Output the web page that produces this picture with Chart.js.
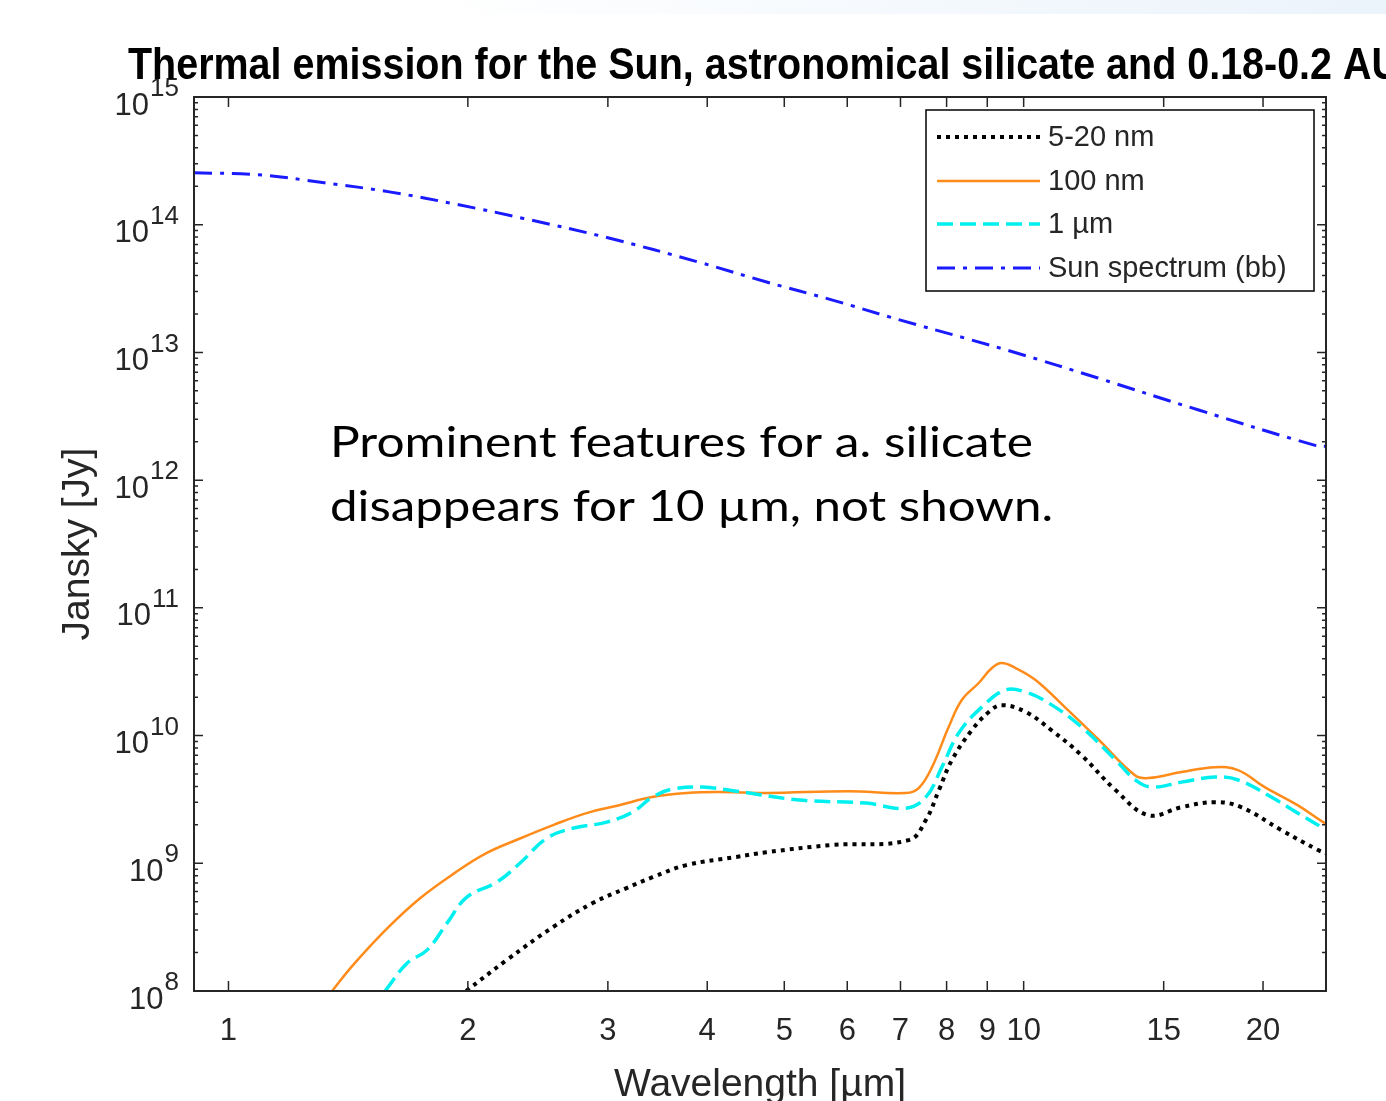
<!DOCTYPE html>
<html>
<head>
<meta charset="utf-8">
<script src="https://cdn.jsdelivr.net/npm/chart.js@4/dist/chart.umd.min.js"></script>
<style>
  html, body { margin: 0; padding: 0; background: #fff; }
  canvas { display: block; }
</style>
</head>
<body>
<canvas id="thermalChart" width="1386" height="1101"></canvas>
<script>
// wavelengths in um, flux in Jy
const sunWl   = [0.905, 1.09, 1.32, 1.6, 1.94, 2.35, 3.0, 3.9, 4.75, 5.75, 7.0, 8.45, 9.8, 12.4, 16.6, 23.2, 24];
const sunFlux = [2.55e14, 2.46e14, 2.13e14, 1.8e14, 1.44e14, 1.12e14, 7.9e13, 5.1e13, 3.56e13, 2.57e13, 1.79e13, 1.29e13, 9.9e12, 6.3e12, 3.54e12, 1.88e12, 1.84e12];

const nm100Wl   = [1.35, 1.435, 1.58, 1.74, 1.92, 2.11, 2.33, 2.56, 2.82, 3.1, 3.41, 3.77, 4.14, 4.75, 6.03, 7.11, 7.38, 7.67, 8.05, 8.36, 8.78, 9.12, 9.38, 9.77, 10.35, 11.3, 12.4, 13.8, 14.35, 15.8, 17.4, 18.6, 20.1, 22.1, 23.8, 24];
const nm100Flux = [1.0e8, 1.6e8, 3.05e8, 5.3e8, 8.3e8, 1.2e9, 1.57e9, 1.99e9, 2.47e9, 2.85e9, 3.3e9, 3.55e9, 3.61e9, 3.55e9, 3.67e9, 3.55e9, 3.88e9, 5.66e9, 1.17e10, 1.9e10, 2.58e10, 3.38e10, 3.7e10, 3.38e10, 2.72e10, 1.64e10, 9.4e9, 4.9e9, 4.65e9, 5.18e9, 5.66e9, 5.37e9, 3.95e9, 2.85e9, 2.1e9, 2.05e9];

const um1Wl   = [1.574, 1.677, 1.777, 1.883, 1.994, 2.176, 2.325, 2.513, 2.71, 2.99, 3.223, 3.414, 3.617, 3.945, 4.351, 5.222, 6.336, 7.109, 7.534, 7.891, 8.288, 8.858, 9.493, 10.06, 10.75, 11.82, 13.16, 13.82, 14.47, 15.79, 17.41, 18.61, 20.48, 22.13, 23.79, 24];
const um1Flux = [1.0e8, 1.65e8, 2.09e8, 3.4e8, 5.43e8, 7.13e8, 1.0e9, 1.57e9, 1.88e9, 2.1e9, 2.52e9, 3.3e9, 3.81e9, 3.95e9, 3.67e9, 3.13e9, 2.96e9, 2.7e9, 3.3e9, 5.66e9, 1.05e10, 1.67e10, 2.28e10, 2.19e10, 1.8e10, 1.17e10, 6.1e9, 4.49e9, 3.95e9, 4.32e9, 4.73e9, 4.49e9, 3.3e9, 2.47e9, 1.89e9, 1.85e9];

const smallWl   = [1.99, 2.239, 2.558, 2.871, 3.167, 3.414, 3.766, 4.351, 4.746, 5.742, 7.171, 7.534, 7.824, 8.124, 8.605, 9.04, 9.384, 10.06, 10.84, 11.82, 13.05, 14.35, 15.79, 17.41, 18.77, 21.08, 23.45, 24];
const smallFlux = [1.0e8, 1.75e8, 3.16e8, 4.88e8, 6.4e8, 7.78e8, 9.68e8, 1.12e9, 1.22e9, 1.39e9, 1.52e9, 2.18e9, 3.74e9, 6.43e9, 1.1e10, 1.53e10, 1.73e10, 1.53e10, 1.1e10, 7.03e9, 3.74e9, 2.38e9, 2.75e9, 3.01e9, 2.75e9, 1.82e9, 1.27e9, 1.2e9];

const legendLabels = ['5-20 nm', '100 nm', '1 \u00b5m', 'Sun spectrum (bb)'];
const xTicks = [1, 2, 3, 4, 5, 6, 7, 8, 9, 10, 15, 20];
const yExponents = [8, 9, 10, 11, 12, 13, 14, 15];

const titleText = 'Thermal emission for the Sun, astronomical silicate and 0.18-0.2 AU';
const noteLines = ['Prominent features for a. silicate', 'disappears for 10 \u00b5m, not shown.'];

const pts = (xs, ys) => xs.map((x, i) => ({ x: x, y: ys[i] }));

const AXIS = '#262626';
const SANS = '"Liberation Sans", Arial, sans-serif';

// fill the text to a given width (source figure text is a bit condensed)
function fitText(ctx, s, x, y, font, width) {
    ctx.font = font;
    const k = width / ctx.measureText(s).width;
    ctx.save();
    ctx.translate(x, y);
    ctx.scale(k, 1);
    ctx.textAlign = 'left';
    ctx.fillText(s, 0, 0);
    ctx.restore();
}

const decorPlugin = {
    id: 'decor',
    beforeDraw(chart) {
        const ctx = chart.ctx;
        ctx.save();
        ctx.fillStyle = '#fff';
        ctx.fillRect(0, 0, chart.width, chart.height);
        const g = ctx.createLinearGradient(420, 0, 1386, 0);
        g.addColorStop(0, 'rgba(235,243,251,0)');
        g.addColorStop(1, 'rgba(235,243,251,1)');
        ctx.fillStyle = g;
        ctx.fillRect(420, 0, 966, 14);
        ctx.restore();
    },
    afterDraw(chart) {
        const ctx = chart.ctx;
        const xs = chart.scales.x, ys = chart.scales.y;
        const a = chart.chartArea;
        ctx.save();

        // box
        ctx.strokeStyle = AXIS;
        ctx.lineWidth = 2;
        ctx.strokeRect(a.left, a.top, a.right - a.left, a.bottom - a.top);

        // y ticks (major + minor), both sides
        ctx.lineWidth = 1.5;
        ctx.beginPath();
        yExponents.forEach(e => {
            const py = ys.getPixelForValue(Math.pow(10, e));
            ctx.moveTo(a.left, py); ctx.lineTo(a.left + 9, py);
            ctx.moveTo(a.right, py); ctx.lineTo(a.right - 9, py);
            if (e < 15) {
                for (let k = 2; k <= 9; k++) {
                    const my = ys.getPixelForValue(k * Math.pow(10, e));
                    ctx.moveTo(a.left, my); ctx.lineTo(a.left + 4, my);
                    ctx.moveTo(a.right, my); ctx.lineTo(a.right - 4, my);
                }
            }
        });
        // x ticks, top and bottom
        xTicks.forEach(t => {
            const px = xs.getPixelForValue(t);
            ctx.moveTo(px, a.bottom); ctx.lineTo(px, a.bottom - 10);
            ctx.moveTo(px, a.top); ctx.lineTo(px, a.top + 10);
        });
        ctx.stroke();

        // tick labels
        ctx.fillStyle = AXIS;
        ctx.textBaseline = 'middle';
        ctx.textAlign = 'center';
        ctx.font = '31px ' + SANS;
        xTicks.forEach(t => {
            ctx.fillText(String(t), xs.getPixelForValue(t), a.bottom + 40);
        });
        yExponents.forEach(e => {
            const py = ys.getPixelForValue(Math.pow(10, e));
            ctx.font = '26px ' + SANS;
            const ws = ctx.measureText(String(e)).width;
            ctx.font = '31px ' + SANS;
            const wb = ctx.measureText('10').width;
            const x0 = a.left - 16 - ws - wb;
            ctx.textAlign = 'left';
            ctx.fillText('10', x0, py + 9);
            ctx.font = '26px ' + SANS;
            ctx.fillText(String(e), x0 + wb + 1, py - 8);
        });

        // axis titles
        ctx.textAlign = 'center';
        ctx.textBaseline = 'alphabetic';
        ctx.font = '39px ' + SANS;
        ctx.fillText('Wavelength [\u00b5m]', (a.left + a.right) / 2, 1096);
        ctx.save();
        ctx.translate(89, 544);
        ctx.rotate(-Math.PI / 2);
        ctx.fillText('Jansky [Jy]', 0, 0);
        ctx.restore();

        // title
        ctx.fillStyle = '#000';
        fitText(ctx, titleText, 128, 79, 'bold 44px ' + SANS, 1272);

        // annotation
        fitText(ctx, noteLines[0], 330, 457, '42px Lato, "Open Sans", sans-serif', 703);
        fitText(ctx, noteLines[1], 330, 521, '42px Lato, "Open Sans", sans-serif', 723);

        // legend
        const lx = 926, ly = 110, lw = 388, lh = 181;
        ctx.fillStyle = '#fff';
        ctx.fillRect(lx, ly, lw, lh);
        ctx.strokeStyle = '#000';
        ctx.lineWidth = 1.5;
        ctx.strokeRect(lx, ly, lw, lh);
        const rows = [137, 181, 224, 268];
        chart.data.datasets.forEach((ds, i) => {
            const ry = rows[i];
            ctx.save();
            ctx.strokeStyle = ds.borderColor;
            ctx.lineWidth = ds.borderWidth;
            ctx.setLineDash(ds.borderDash || []);
            ctx.beginPath();
            ctx.moveTo(937, ry);
            ctx.lineTo(1040, ry);
            ctx.stroke();
            ctx.restore();
            ctx.fillStyle = AXIS;
            ctx.font = '29px ' + SANS;
            ctx.textAlign = 'left';
            ctx.textBaseline = 'middle';
            ctx.fillText(ds.label, 1048, ry + 1);
        });

        ctx.restore();
    }
};

document.addEventListener('DOMContentLoaded', () => {
    const ctx = document.getElementById('thermalChart');
    new Chart(ctx, {
        type: 'line',
        data: {
            datasets: [{
                label: legendLabels[0],
                data: pts(smallWl, smallFlux),
                borderColor: '#000000',
                borderWidth: 4,
                borderDash: [4, 5],
                order: 1
            }, {
                label: legendLabels[1],
                data: pts(nm100Wl, nm100Flux),
                borderColor: '#ff8c1a',
                borderWidth: 2.5,
                order: 2
            }, {
                label: legendLabels[2],
                data: pts(um1Wl, um1Flux),
                borderColor: '#00f0f0',
                borderWidth: 3.5,
                borderDash: [16, 7],
                order: 0
            }, {
                label: legendLabels[3],
                data: pts(sunWl, sunFlux),
                borderColor: '#1a1aff',
                borderWidth: 3,
                borderDash: [18, 8, 4, 8],
                order: 3
            }]
        },
        options: {
            responsive: false,
            animation: false,
            events: [],
            layout: { padding: { left: 194, top: 97, right: 60, bottom: 110 } },
            elements: {
                point: { radius: 0 },
                line: { tension: 0.4, fill: false }
            },
            scales: {
                x: { type: 'logarithmic', min: 0.905, max: 24, display: false },
                y: { type: 'logarithmic', min: 1e8, max: 1e15, display: false }
            },
            plugins: {
                legend: { display: false },
                tooltip: { enabled: false }
            }
        },
        plugins: [decorPlugin]
    });
});
</script>
</body>
</html>
